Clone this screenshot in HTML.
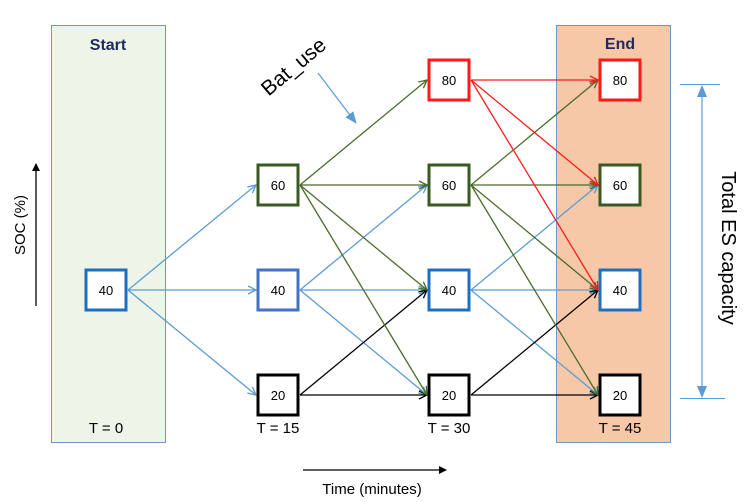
<!DOCTYPE html><html><head><style>body{margin:0;background:#fff}svg{display:block}text{font-family:"Liberation Sans",sans-serif}</style></head><body>
<svg width="754" height="502" viewBox="0 0 754 502" xmlns="http://www.w3.org/2000/svg">
<defs>
<marker id="o" markerWidth="10" markerHeight="10" refX="9" refY="5" orient="auto" markerUnits="userSpaceOnUse"><path d="M1,1 L9,5 L1,9" fill="none" stroke="context-stroke" stroke-width="1.3"/></marker>
<marker id="f" markerWidth="12" markerHeight="12" refX="11" refY="6" orient="auto" markerUnits="userSpaceOnUse"><path d="M0,1 L12,6 L0,11Z" fill="#5b9bd5"/></marker>
<marker id="k" markerWidth="8" markerHeight="8" refX="7" refY="4" orient="auto" markerUnits="userSpaceOnUse"><path d="M0,0 L8,4 L0,8Z" fill="#000"/></marker>
</defs>
<rect x="51.5" y="25.5" width="114" height="417" fill="#eef5e8" stroke="#6f96c4"/>
<rect x="556.5" y="25.5" width="114" height="417" fill="#f7c8a8" stroke="#6f96c4"/>
<text x="108" y="50" font-size="16" font-weight="bold" fill="#1f2a5e" text-anchor="middle">Start</text>
<text x="620" y="49" font-size="16" font-weight="bold" fill="#1f2a5e" text-anchor="middle">End</text>
<g stroke-width="1.3" fill="none">
<g stroke="#5b9bd5">
<line x1="128" y1="290" x2="256" y2="185" marker-end="url(#o)"/>
<line x1="128" y1="290" x2="256" y2="290" marker-end="url(#o)"/>
<line x1="128" y1="290" x2="256" y2="395" marker-end="url(#o)"/>
<line x1="300" y1="290" x2="427" y2="185" marker-end="url(#o)"/>
<line x1="300" y1="290" x2="427" y2="290" marker-end="url(#o)"/>
<line x1="300" y1="290" x2="427" y2="395" marker-end="url(#o)"/>
<line x1="471" y1="290" x2="598" y2="185" marker-end="url(#o)"/>
<line x1="471" y1="290" x2="598" y2="290" marker-end="url(#o)"/>
<line x1="471" y1="290" x2="598" y2="395" marker-end="url(#o)"/>
</g>
<g stroke="#000">
<line x1="300" y1="395" x2="427" y2="290" marker-end="url(#o)"/>
<line x1="300" y1="395" x2="427" y2="395" marker-end="url(#o)"/>
<line x1="471" y1="395" x2="598" y2="290" marker-end="url(#o)"/>
<line x1="471" y1="395" x2="598" y2="395" marker-end="url(#o)"/>
</g>
<g stroke="#4a6b2a">
<line x1="300" y1="185" x2="427" y2="80" marker-end="url(#o)"/>
<line x1="300" y1="185" x2="427" y2="185" marker-end="url(#o)"/>
<line x1="300" y1="185" x2="427" y2="290" marker-end="url(#o)"/>
<line x1="300" y1="185" x2="427" y2="395" marker-end="url(#o)"/>
<line x1="471" y1="185" x2="598" y2="80" marker-end="url(#o)"/>
<line x1="471" y1="185" x2="598" y2="185" marker-end="url(#o)"/>
<line x1="471" y1="185" x2="598" y2="290" marker-end="url(#o)"/>
<line x1="471" y1="185" x2="598" y2="395" marker-end="url(#o)"/>
</g>
<g stroke="#ff1a1a">
<line x1="471" y1="80" x2="598" y2="80" marker-end="url(#o)"/>
<line x1="471" y1="80" x2="598" y2="185" marker-end="url(#o)"/>
<line x1="471" y1="80" x2="598" y2="290" marker-end="url(#o)"/>
</g>
</g>
<g font-size="13" text-anchor="middle" fill="#000">
<rect x="86" y="270" width="40" height="40" fill="#fff" stroke="#1f6fc0" stroke-width="3"/><text x="106" y="295">40</text>
<rect x="258" y="165" width="40" height="40" fill="#fff" stroke="#3a5a22" stroke-width="3"/><text x="278" y="190">60</text>
<rect x="258" y="270" width="40" height="40" fill="#fff" stroke="#4472c4" stroke-width="3"/><text x="278" y="295">40</text>
<rect x="258" y="375" width="40" height="40" fill="#fff" stroke="#000" stroke-width="3"/><text x="278" y="400">20</text>
<rect x="429" y="60" width="40" height="40" fill="#fff" stroke="#ff1a1a" stroke-width="3"/><text x="449" y="85">80</text>
<rect x="429" y="165" width="40" height="40" fill="#fff" stroke="#3a5a22" stroke-width="3"/><text x="449" y="190">60</text>
<rect x="429" y="270" width="40" height="40" fill="#fff" stroke="#1f6fc0" stroke-width="3"/><text x="449" y="295">40</text>
<rect x="429" y="375" width="40" height="40" fill="#fff" stroke="#000" stroke-width="3"/><text x="449" y="400">20</text>
<rect x="600" y="60" width="40" height="40" fill="#fff" stroke="#ff1a1a" stroke-width="3"/><text x="620" y="85">80</text>
<rect x="600" y="165" width="40" height="40" fill="#fff" stroke="#3a5a22" stroke-width="3"/><text x="620" y="190">60</text>
<rect x="600" y="270" width="40" height="40" fill="#fff" stroke="#1f6fc0" stroke-width="3"/><text x="620" y="295">40</text>
<rect x="600" y="375" width="40" height="40" fill="#fff" stroke="#000" stroke-width="3"/><text x="620" y="400">20</text>
</g>
<g font-size="15" text-anchor="middle" fill="#000">
<text x="106" y="433">T = 0</text><text x="278" y="433">T = 15</text><text x="449" y="433">T = 30</text><text x="620" y="433">T = 45</text>
<text x="372" y="494">Time (minutes)</text>
</g>
<line x1="303" y1="470" x2="446" y2="470" stroke="#000" stroke-width="1.3" marker-end="url(#k)"/>
<line x1="36" y1="306" x2="36" y2="164" stroke="#000" stroke-width="1.3" marker-end="url(#k)"/>
<text transform="translate(25,225) rotate(-90)" font-size="15" text-anchor="middle">SOC (%)</text>
<text transform="translate(298,72) rotate(-40)" font-size="21" text-anchor="middle">Bat_use</text>
<line x1="318" y1="73" x2="356" y2="123" stroke="#5b9bd5" stroke-width="1.2" marker-end="url(#f)"/>
<line x1="680" y1="84.5" x2="720" y2="84.5" stroke="#5b9bd5"/>
<line x1="680" y1="398.5" x2="725" y2="398.5" stroke="#5b9bd5"/>
<line x1="702" y1="240" x2="702" y2="86" stroke="#5b9bd5" stroke-width="1.2" marker-end="url(#f)"/>
<line x1="702" y1="240" x2="702" y2="397" stroke="#5b9bd5" stroke-width="1.2" marker-end="url(#f)"/>
<text transform="translate(722,248) rotate(90)" font-size="20" text-anchor="middle">Total ES capacity</text>
</svg>
</body></html>
